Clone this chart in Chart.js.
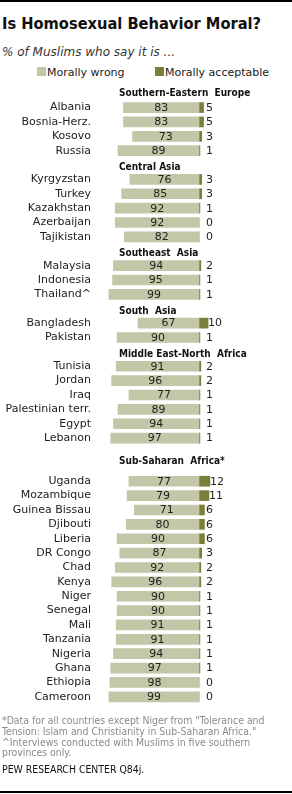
<!DOCTYPE html>
<html>
<head>
<meta charset="utf-8">
<script src="https://cdn.jsdelivr.net/npm/chart.js@4/dist/chart.umd.min.js"></script>
<style>
  body { margin: 0; background: #fff; }
  #wrap { position: relative; width: 292px; height: 794px; overflow: hidden; font-family: "DejaVu Sans", Verdana, sans-serif; }
  #wrap div { position: absolute; white-space: nowrap; }
  .rule { left: 0; width: 292px; height: 2px; background: #000; }
  #title { left: 2px; top: 14px; font: bold 16.3px "DejaVu Sans Condensed", "DejaVu Sans", sans-serif; color: #111; }
  #sub { left: 2px; top: 45px; font: italic 12px "DejaVu Sans", sans-serif; color: #333; }
  .leg { top: 66px; font-size: 11px; color: #222; }
  .leg span { display: inline-block; width: 9px; height: 9px; margin-right: 1px; }
  #note { left: 2px; top: 715px; font: 10.4px/10.8px "DejaVu Sans Condensed", "DejaVu Sans", sans-serif; color: #8a8a8a; }
  #src { left: 2px; top: 763px; font: 10.4px "DejaVu Sans Condensed", "DejaVu Sans", sans-serif; color: #111; }
  #box { left: 0; top: 0; width: 292px; height: 794px; }
</style>
</head>
<body>
<div id="wrap">
  <div class="rule" style="top:0"></div>
  <div id="title">Is Homosexual Behavior Moral?</div>
  <div id="sub">% of Muslims who say it is ...</div>
  <div class="leg" style="left:37px"><span style="background:#c4c6a8"></span>Morally wrong</div>
  <div class="leg" style="left:155px"><span style="background:#7b7f3c"></span>Morally acceptable</div>
  <div id="box"><canvas id="chart"></canvas></div>
  <div id="note">*Data for all countries except Niger from "Tolerance and<br>Tension: Islam and Christianity in Sub-Saharan Africa."<br>^Interviews conducted with Muslims in five southern<br>provinces only.</div>
  <div id="src">PEW RESEARCH  CENTER Q84j.</div>
  <div class="rule" style="top:791px"></div>
</div>
<script>
// data
const regions = ['Southern-Eastern  Europe', 'Central Asia', 'Southeast  Asia', 'South  Asia', 'Middle East-North  Africa', 'Sub-Saharan  Africa*'];
const regionSizes = [4, 5, 3, 2, 6, 16];
const countries = ['Albania', 'Bosnia-Herz.', 'Kosovo', 'Russia',
  'Kyrgyzstan', 'Turkey', 'Kazakhstan', 'Azerbaijan', 'Tajikistan',
  'Malaysia', 'Indonesia', 'Thailand^',
  'Bangladesh', 'Pakistan',
  'Tunisia', 'Jordan', 'Iraq', 'Palestinian terr.', 'Egypt', 'Lebanon',
  'Uganda', 'Mozambique', 'Guinea Bissau', 'Djibouti', 'Liberia', 'DR Congo', 'Chad', 'Kenya',
  'Niger', 'Senegal', 'Mali', 'Tanzania', 'Nigeria', 'Ghana', 'Ethiopia', 'Cameroon'];
const wrong = [83, 83, 73, 89, 76, 85, 92, 92, 82, 94, 95, 99, 67, 90, 91, 96, 77, 89, 94, 97,
  77, 79, 71, 80, 90, 87, 92, 96, 90, 90, 91, 91, 94, 97, 98, 99];
const acceptable = [5, 5, 3, 1, 3, 3, 1, 0, 0, 2, 1, 1, 10, 1, 2, 2, 1, 1, 1, 1,
  12, 11, 6, 6, 6, 3, 2, 2, 1, 1, 1, 1, 1, 1, 0, 0];

// build rows: a header slot before each region (two for the last one)
const labels = [], wrongRows = [], accRows = [], rowValue = [], headerPos = [];
let k = 0;
regions.forEach(function (r, ri) {
  const gap = ri === regions.length - 1 ? 2 : 1;
  headerPos.push(labels.length + (gap === 2 ? 0.6 : (ri === 0 ? 0 : 0.15)));
  for (let g = 0; g < gap; g++) {
    labels.push(''); wrongRows.push(null); accRows.push(null); rowValue.push(null);
  }
  for (let j = 0; j < regionSizes[ri]; j++, k++) {
    labels.push(countries[k]);
    wrongRows.push([-wrong[k], 0]);
    accRows.push([0, acceptable[k]]);
    rowValue.push(k);
  }
});

const valueLabels = {
  id: 'valueLabels',
  afterDatasetsDraw(chart) {
    const ctx = chart.ctx;
    const y = chart.scales.y, x = chart.scales.x;
    const mw = chart.getDatasetMeta(0), ma = chart.getDatasetMeta(1);
    ctx.save();
    ctx.fillStyle = '#222';
    ctx.textBaseline = 'middle';
    ctx.font = '11px "DejaVu Sans"';
    rowValue.forEach(function (vi, i) {
      if (vi === null) return;
      const bw = mw.data[i], ba = ma.data[i];
      ctx.textAlign = 'center';
      ctx.fillText(wrong[vi], (bw.x + bw.base) / 2, bw.y + 0.5);
      ctx.textAlign = 'left';
      ctx.fillText(acceptable[vi], Math.max(x.getPixelForValue(0) + 7, ba.x), ba.y + 0.5);
    });
    ctx.font = 'bold 10px "DejaVu Sans Condensed", "DejaVu Sans"';
    ctx.fillStyle = '#111';
    regions.forEach(function (r, ri) {
      ctx.fillText(r, 119, y.getPixelForValue(headerPos[ri]));
    });
    ctx.restore();
  }
};

new Chart(document.getElementById('chart'), {
  type: 'bar',
  data: {
    labels: labels,
    datasets: [
      { label: 'Morally wrong', data: wrongRows, backgroundColor: '#c4c6a8', barThickness: 10, grouped: false },
      { label: 'Morally acceptable', data: accRows, backgroundColor: '#7b7f3c', barThickness: 10, grouped: false }
    ]
  },
  options: {
    indexAxis: 'y',
    responsive: true,
    maintainAspectRatio: false,
    animation: false,
    layout: { padding: { top: 86, bottom: 90, left: 0, right: 0 } },
    plugins: { legend: { display: false }, tooltip: { enabled: false } },
    scales: {
      x: { display: false, min: -108.8, max: 102.2 },
      y: {
        grid: { display: false, drawTicks: false },
        border: { display: false },
        afterFit: function (s) { s.width = 100; },
        ticks: { padding: 9, color: '#222', autoSkip: false, font: { family: 'DejaVu Sans', size: 11 } }
      }
    }
  },
  plugins: [valueLabels]
});
</script>
</body>
</html>
